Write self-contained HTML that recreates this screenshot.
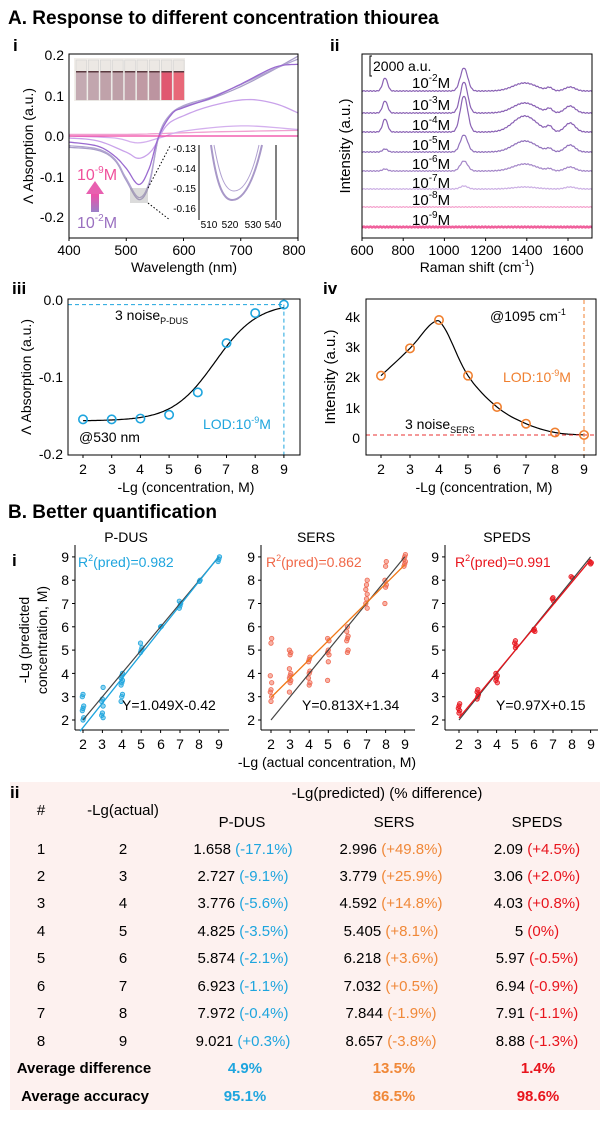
<!DOCTYPE html>
<html><head><meta charset="utf-8"><style>
body{margin:0;background:#fff}
svg{display:block;font-family:"Liberation Sans",Arial,sans-serif}
</style></head><body>
<svg id="s" width="600" height="1139" viewBox="0 0 600 1139" xmlns="http://www.w3.org/2000/svg">
<defs>
<linearGradient id="ag" x1="0" y1="1" x2="0" y2="0"><stop offset="0" stop-color="#9a80c8"/><stop offset="1" stop-color="#f050a8"/></linearGradient>
</defs>
<rect x="10" y="782" width="590" height="328" fill="#fdf1ef"/>
<text x="8" y="24" font-size="19" font-weight="bold">A. Response to different concentration thiourea</text>
<text x="8" y="518" font-size="19" font-weight="bold">B. Better quantification</text>
<text x="13" y="51" font-size="17" font-weight="bold">i</text>
<text x="330" y="51" font-size="17" font-weight="bold">ii</text>
<text x="12" y="294" font-size="17" font-weight="bold">iii</text>
<text x="323" y="294" font-size="17" font-weight="bold">iv</text>
<text x="12" y="566" font-size="17" font-weight="bold">i</text>
<text x="10" y="798" font-size="17" font-weight="bold">ii</text>
<g id="p1"></g>
<rect x="69" y="54" width="229" height="184" fill="none" stroke="#000" stroke-width="1"/>
<g font-size="14" text-anchor="end">
<text x="64" y="60">0.2</text><text x="64" y="101">0.1</text><text x="64" y="141">0.0</text><text x="64" y="182">-0.1</text><text x="64" y="222">-0.2</text></g>
<g font-size="14" text-anchor="middle">
<text x="69" y="255">400</text><text x="126" y="255">500</text><text x="184" y="255">600</text><text x="241" y="255">700</text><text x="294" y="255">800</text>
<text x="184" y="272" font-size="14">Wavelength (nm)</text></g>
<text transform="translate(33,146) rotate(-90)" font-size="14" text-anchor="middle">Λ Absorption (a.u.)</text>
<g id="photo"></g>
<text x="77" y="180" font-size="16" fill="#f0509c">10<tspan font-size="10" dy="-7">-9</tspan><tspan dy="7">M</tspan></text>
<text x="77" y="228" font-size="16" fill="#9a70c0">10<tspan font-size="10" dy="-7">-2</tspan><tspan dy="7">M</tspan></text>
<rect x="91" y="194" width="8" height="18" fill="url(#ag)"/>
<polygon points="86,194 104,194 95,181" fill="#e860b0"/>
<rect x="130" y="188" width="18" height="15" fill="#999" opacity="0.35"/>
<line x1="148" y1="188" x2="170" y2="146" stroke="#000" stroke-dasharray="1.5,2"/>
<line x1="148" y1="203" x2="170" y2="220" stroke="#000" stroke-dasharray="1.5,2"/>
<line x1="199" y1="145" x2="199" y2="220" stroke="#000"/><line x1="276" y1="145" x2="276" y2="220" stroke="#000"/>
<g font-size="10" text-anchor="end"><text x="196" y="152">-0.13</text><text x="196" y="172">-0.14</text><text x="196" y="192">-0.15</text><text x="196" y="212">-0.16</text></g>
<g font-size="10" text-anchor="middle"><text x="209" y="228">510</text><text x="230" y="228">520</text><text x="253" y="228">530</text><text x="273" y="228">540</text></g>
<path d="M211,145 C216,180 222,200 232,200 C244,200 254,180 262,145" fill="none" stroke="#a898c8" stroke-width="2"/>
<path d="M214,145 C219,172 224,191 234,191 C245,191 253,172 259,145" fill="none" stroke="#b0a0d0" stroke-width="1"/>
<g id="p2"></g>
<rect x="362" y="54" width="230" height="184" fill="none" stroke="#000"/>
<path d="M372,56 h-2 v20 h2" fill="none" stroke="#000"/>
<text x="373" y="71" font-size="14">2000 a.u.</text>
<g font-size="15">
<text x="412" y="88">10<tspan font-size="10" dy="-7">-2</tspan><tspan dy="7">M</tspan></text>
<text x="412" y="110">10<tspan font-size="10" dy="-7">-3</tspan><tspan dy="7">M</tspan></text>
<text x="412" y="130">10<tspan font-size="10" dy="-7">-4</tspan><tspan dy="7">M</tspan></text>
<text x="412" y="150">10<tspan font-size="10" dy="-7">-5</tspan><tspan dy="7">M</tspan></text>
<text x="412" y="169">10<tspan font-size="10" dy="-7">-6</tspan><tspan dy="7">M</tspan></text>
<text x="412" y="188">10<tspan font-size="10" dy="-7">-7</tspan><tspan dy="7">M</tspan></text>
<text x="412" y="205">10<tspan font-size="10" dy="-7">-8</tspan><tspan dy="7">M</tspan></text>
<text x="412" y="225">10<tspan font-size="10" dy="-7">-9</tspan><tspan dy="7">M</tspan></text></g>
<g font-size="14" text-anchor="middle">
<text x="362" y="255">600</text><text x="403" y="255">800</text><text x="444" y="255">1000</text><text x="486" y="255">1200</text><text x="527" y="255">1400</text><text x="568" y="255">1600</text>
<text x="477" y="272">Raman shift (cm<tspan font-size="9" dy="-6">-1</tspan><tspan dy="6">)</tspan></text></g>
<text transform="translate(350,146) rotate(-90)" font-size="15" text-anchor="middle">Intensity (a.u.)</text>
<g id="p3"></g>
<rect x="68" y="299" width="232" height="156" fill="none" stroke="#000"/>
<g font-size="14" text-anchor="end"><text x="63" y="305">0.0</text><text x="63" y="382">-0.1</text><text x="63" y="459">-0.2</text></g>
<g font-size="14" text-anchor="middle"><text x="83" y="474">2</text><text x="112" y="474">3</text><text x="140" y="474">4</text><text x="169" y="474">5</text><text x="198" y="474">6</text><text x="226" y="474">7</text><text x="255" y="474">8</text><text x="284" y="474">9</text>
<text x="186" y="492">-Lg (concentration, M)</text></g>
<text transform="translate(31,377) rotate(-90)" font-size="14" text-anchor="middle">Λ Absorption (a.u.)</text>
<text x="115" y="320" font-size="14">3 noise<tspan font-size="9" dy="4">P-DUS</tspan></text>
<text x="203" y="429" font-size="14" fill="#1ea5de">LOD:10<tspan font-size="9" dy="-6">-9</tspan><tspan dy="6">M</tspan></text>
<text x="79" y="442" font-size="14">@530 nm</text>
<g id="p4"></g>
<rect x="366" y="299" width="230" height="156" fill="none" stroke="#000"/>
<g font-size="14" text-anchor="end"><text x="360" y="322">4k</text><text x="360" y="352">3k</text><text x="360" y="382">2k</text><text x="360" y="413">1k</text><text x="360" y="443">0</text></g>
<g font-size="14" text-anchor="middle"><text x="381" y="474">2</text><text x="410" y="474">3</text><text x="439" y="474">4</text><text x="468" y="474">5</text><text x="497" y="474">6</text><text x="526" y="474">7</text><text x="555" y="474">8</text><text x="584" y="474">9</text>
<text x="484" y="492">-Lg (concentration, M)</text></g>
<text transform="translate(335,377) rotate(-90)" font-size="15" text-anchor="middle">Intensity (a.u.)</text>
<text x="490" y="321" font-size="14">@1095 cm<tspan font-size="9" dy="-6">-1</tspan></text>
<text x="503" y="382" font-size="14" fill="#f08030">LOD:10<tspan font-size="9" dy="-6">-9</tspan><tspan dy="6">M</tspan></text>
<text x="405" y="429" font-size="14">3 noise<tspan font-size="9" dy="4">SERS</tspan></text>
<g id="pb"></g>
<g font-size="14" text-anchor="middle"><text x="126" y="542">P-DUS</text><text x="316" y="542">SERS</text><text x="507" y="542">SPEDS</text>
<text x="327" y="767">-Lg (actual concentration, M)</text></g>
<text x="78" y="567" font-size="14" fill="#1ea5de">R<tspan font-size="9" dy="-6">2</tspan><tspan dy="6">(pred)=0.982</tspan></text>
<text x="266" y="567" font-size="14" fill="#f06848">R<tspan font-size="9" dy="-6">2</tspan><tspan dy="6">(pred)=0.862</tspan></text>
<text x="455" y="567" font-size="14" fill="#e8141c">R<tspan font-size="9" dy="-6">2</tspan><tspan dy="6">(pred)=0.991</tspan></text>
<text x="122" y="710" font-size="14">Y=1.049X-0.42</text>
<text x="302" y="710" font-size="14">Y=0.813X+1.34</text>
<text x="496" y="710" font-size="14">Y=0.97X+0.15</text>
<text transform="translate(29,640) rotate(-90)" font-size="14" text-anchor="middle">-Lg (predicted</text>
<text transform="translate(47,640) rotate(-90)" font-size="14" text-anchor="middle">concentration, M)</text>
<g font-size="15" text-anchor="middle">
<text x="387" y="798">-Lg(predicted) (% difference)</text>
<text x="41" y="815">#</text><text x="123" y="815">-Lg(actual)</text>
<text x="242" y="827">P-DUS</text><text x="394" y="827">SERS</text><text x="537" y="827">SPEDS</text>
</g>
<g font-size="15" text-anchor="middle">
<g transform="translate(0,854)"><text x="41">1</text><text x="123">2</text><text x="243">1.658 <tspan fill="#1ea5de">(-17.1%)</tspan></text><text x="391">2.996 <tspan fill="#f08838">(+49.8%)</tspan></text><text x="537">2.09 <tspan fill="#e8141c">(+4.5%)</tspan></text></g>
<g transform="translate(0,881)"><text x="41">2</text><text x="123">3</text><text x="243">2.727 <tspan fill="#1ea5de">(-9.1%)</tspan></text><text x="391">3.779 <tspan fill="#f08838">(+25.9%)</tspan></text><text x="537">3.06 <tspan fill="#e8141c">(+2.0%)</tspan></text></g>
<g transform="translate(0,908)"><text x="41">3</text><text x="123">4</text><text x="243">3.776 <tspan fill="#1ea5de">(-5.6%)</tspan></text><text x="391">4.592 <tspan fill="#f08838">(+14.8%)</tspan></text><text x="537">4.03 <tspan fill="#e8141c">(+0.8%)</tspan></text></g>
<g transform="translate(0,936)"><text x="41">4</text><text x="123">5</text><text x="243">4.825 <tspan fill="#1ea5de">(-3.5%)</tspan></text><text x="391">5.405 <tspan fill="#f08838">(+8.1%)</tspan></text><text x="537">5 <tspan fill="#e8141c">(0%)</tspan></text></g>
<g transform="translate(0,963)"><text x="41">5</text><text x="123">6</text><text x="243">5.874 <tspan fill="#1ea5de">(-2.1%)</tspan></text><text x="391">6.218 <tspan fill="#f08838">(+3.6%)</tspan></text><text x="537">5.97 <tspan fill="#e8141c">(-0.5%)</tspan></text></g>
<g transform="translate(0,991)"><text x="41">6</text><text x="123">7</text><text x="243">6.923 <tspan fill="#1ea5de">(-1.1%)</tspan></text><text x="391">7.032 <tspan fill="#f08838">(+0.5%)</tspan></text><text x="537">6.94 <tspan fill="#e8141c">(-0.9%)</tspan></text></g>
<g transform="translate(0,1018)"><text x="41">7</text><text x="123">8</text><text x="243">7.972 <tspan fill="#1ea5de">(-0.4%)</tspan></text><text x="391">7.844 <tspan fill="#f08838">(-1.9%)</tspan></text><text x="537">7.91 <tspan fill="#e8141c">(-1.1%)</tspan></text></g>
<g transform="translate(0,1046)"><text x="41">8</text><text x="123">9</text><text x="243">9.021 <tspan fill="#1ea5de">(+0.3%)</tspan></text><text x="391">8.657 <tspan fill="#f08838">(-3.8%)</tspan></text><text x="537">8.88 <tspan fill="#e8141c">(-1.3%)</tspan></text></g>
<g transform="translate(0,1073)" font-weight="bold"><text x="84">Average difference</text><text x="245" fill="#1ea5de">4.9%</text><text x="394" fill="#f08838">13.5%</text><text x="538" fill="#e8141c">1.4%</text></g>
<g transform="translate(0,1101)" font-weight="bold"><text x="85">Average accuracy</text><text x="245" fill="#1ea5de">95.1%</text><text x="394" fill="#f08838">86.5%</text><text x="538" fill="#e8141c">98.6%</text></g>
</g>
</svg>
<script>
var NS="http://www.w3.org/2000/svg";
function el(p,t,a){var e=document.createElementNS(NS,t);for(var k in a)e.setAttribute(k,a[k]);document.getElementById(p).appendChild(e);return e;}
function cr(pts,n){var o=[];for(var i=0;i<pts.length-1;i++){var p0=pts[Math.max(0,i-1)],p1=pts[i],p2=pts[i+1],p3=pts[Math.min(pts.length-1,i+2)];for(var j=0;j<n;j++){var t=j/n,t2=t*t,t3=t2*t;var f=function(a,b,c,d){return 0.5*(2*b+(-a+c)*t+(2*a-5*b+4*c-d)*t2+(-a+3*b-3*c+d)*t3)};o.push([f(p0[0],p1[0],p2[0],p3[0]),f(p0[1],p1[1],p2[1],p3[1])]);}}o.push(pts[pts.length-1]);return o;}
function pl(p,pts,col,w){return el(p,"polyline",{points:pts.map(function(q){return q[0].toFixed(1)+","+q[1].toFixed(1)}).join(" "),fill:"none",stroke:col,"stroke-width":w||1});}
function X1(n){return 69+(n-400)*0.5725}function Y1(v){return 136-v*405}
var cur=[
["#f0a0d0",[[400,.004],[500,.004],[560,.006],[650,.01],[800,.014]]],
["#d4b0ee",[[400,0],[480,-.005],[520,-.017],[560,-.004],[600,.012],[700,.025],[800,.016]]],
["#c9a2ea",[[400,-.005],[450,-.012],[500,-.04],[522,-.055],[545,-.035],[570,.025],[600,.05],[650,.075],[710,.09],[760,.08],[800,.057]]],
["#a89cc8",[[400,-.028],[450,-.035],[480,-.06],[500,-.11],[522,-.157],[540,-.12],[557,0],[575,.05],[600,.072],[650,.093],[700,.122],[750,.158],[800,.197]]],
["#b0a4d0",[[400,-.024],[450,-.032],[480,-.057],[500,-.105],[522,-.152],[540,-.115],[557,0],[575,.05],[600,.075],[650,.097],[700,.127],[750,.16],[800,.19]]],
["#9a6ad0",[[400,-.015],[450,-.025],[480,-.05],[500,-.08],[522,-.12],[540,-.08],[557,0],[580,.055],[600,.07],[650,.095],[700,.128],[760,.17],[800,.177]]],
["#f040a0",[[400,0],[800,0]]]];
cur.forEach(function(c){pl("p1",cr(c[1].map(function(q){return[X1(q[0]),Y1(q[1])]}),8),c[0],1.3);});
el("photo","rect",{x:74,y:58,width:111,height:43,fill:"#f2eeea"});
var vc=["#c4aab2","#c2a6ae","#c0a2aa","#bea0a8","#c09ea8","#c09aa4","#bc94a0","#e05870","#e86878"];
for(var i=0;i<9;i++){var x=76+i*12.2;el("photo","rect",{x:x,y:60,width:10.5,height:40,fill:"#ece8e4",stroke:"#ccc","stroke-width":0.5});el("photo","rect",{x:x,y:72,width:10.5,height:28,fill:vc[i]});el("photo","rect",{x:x,y:71,width:10.5,height:1.5,fill:"#5a3a40"});}
function X2(w){return 362+(w-600)*0.206}
var pk=[[712,12],[1095,18],[1390,40],[1510,14],[1610,25]];
var sp=[[91,[13,23,8,3,4],"#8a62b4"],[113,[12,31,10,4,7],"#8a62b4"],[132,[13,36,16,5,9],"#8a62b4"],[152,[3,17,11,3,7],"#9272bc"],[171,[2,10,7,2,4],"#a486c8"],[189,[0,3,2,0,2],"#ccb0e4"],[207,[0,0,0,0,0],"#f4a0cc"],[227,[0,0,0,0,0],"#f0609c"]];
sp.forEach(function(s,k){var pts=[];for(var w=600;w<=1716;w+=3){var y=s[0];pk.forEach(function(p,i){y-=s[1][i]*Math.exp(-Math.pow((w-p[0])/p[1],2)/2*(i==2?0.5:1))});y+=(Math.sin(w*1.7)*0.4);pts.push([X2(w),y]);}pl("p2",pts,s[2],k==7?2.5:1.2);});
function X3(v){return 83+(v-2)*28.7}function Y3(a){return 300-a*770}
var d3=[[2,-.155],[3,-.155],[4,-.154],[5,-.149],[6,-.12],[7,-.056],[8,-.017],[9,-.006]];
var sm=[];for(var v=2;v<=9.001;v+=0.05){var a=-0.157+0.153/(1+Math.exp(-(v-6.6)*1.35));sm.push([X3(v),Y3(a)]);}
pl("p3",sm,"#000",1.2);
el("p3","line",{x1:68,y1:Y3(-.006),x2:X3(9),y2:Y3(-.006),stroke:"#1ea5de","stroke-dasharray":"4,3"});
el("p3","line",{x1:X3(9),y1:Y3(-.006),x2:X3(9),y2:455,stroke:"#1ea5de","stroke-dasharray":"4,3"});
d3.forEach(function(d){el("p3","circle",{cx:X3(d[0]),cy:Y3(d[1]),r:4.2,fill:"none",stroke:"#1ea5de","stroke-width":1.6})});
function X4(v){return 381+(v-2)*29}function Y4(k){return 438-k*30.4}
var d4=[[2,2.05],[3,2.95],[4,3.88],[5,2.05],[6,1.02],[7,.47],[8,.18],[9,.1]];
var sp4=[[2,2.05],[3,2.95],[3.8,3.8],[4.2,3.6],[5,2.05],[6,1.02],[7,.47],[8,.18],[9,.1]];
pl("p4",cr(sp4.map(function(d){return[X4(d[0]),Y4(d[1])]}),10),"#000",1.2);
el("p4","line",{x1:366,y1:Y4(.1),x2:596,y2:Y4(.1),stroke:"#e83030","stroke-dasharray":"4,3"});
el("p4","line",{x1:X4(9),y1:300,x2:X4(9),y2:455,stroke:"#f08030","stroke-dasharray":"4,3"});
d4.forEach(function(d){el("p4","circle",{cx:X4(d[0]),cy:Y4(d[1]),r:4.2,fill:"none",stroke:"#f08030","stroke-width":1.6})});
function ticksX(p,xs,y){xs.forEach(function(x){el(p,"line",{x1:x,y1:y,x2:x,y2:y+3,stroke:"#000"})})}
ticksX("p3",[2,3,4,5,6,7,8,9].map(X3),455);ticksX("p4",[2,3,4,5,6,7,8,9].map(X4),455);
ticksX("p1",[400,500,600,700,800].map(X1),238);ticksX("p2",[600,800,1000,1200,1400,1600].map(X2),238);
var panels=[
{x0:83,s:19.4,left:75,right:229,col:"#1ea5de",m:1.049,b:-0.42,fx:[1.85,9],
pts:{2:[2.0,2.1,2.4,2.5,2.6,3.0,3.1],3:[2.1,2.2,2.3,2.6,2.8,2.9,3.4],4:[2.8,3.0,3.1,3.5,3.6,3.7,3.8,3.9,4.0],5:[4.9,5.0,5.1,5.3],6:[6.0,6.02],7:[6.8,6.9,7.0,7.1],8:[7.95,8.0],9:[8.8,8.9,9.0]}},
{x0:271,s:19.1,left:261,right:415,col:"#f06850",lc:"#f07818",m:0.813,b:1.34,fx:[2,9],
pts:{2:[2.8,3.0,3.2,3.3,3.6,3.9,5.3,5.5],3:[3.2,3.6,3.7,3.8,3.9,4.0,4.2,4.8,4.9,5.0],4:[3.5,3.6,3.8,4.0,4.1,4.5,4.6,4.7],5:[3.7,4.5,4.8,4.9,5.0,5.4,5.5],6:[4.9,5.0,5.4,5.5,5.6,5.8,6.0],7:[6.8,7.0,7.2,7.4,7.6,7.8,8.0],8:[7.0,7.7,7.8,8.0,8.6,8.8],9:[8.6,8.7,8.8,8.9,9.0,9.1]}},
{x0:459,s:18.8,left:445,right:598,col:"#e8141c",m:0.97,b:0.15,fx:[2,9],
pts:{2:[2.3,2.4,2.5,2.6,2.7],3:[2.9,3.0,3.1,3.2,3.3],4:[3.6,3.7,3.8,3.9,4.0],5:[5.1,5.2,5.3,5.4],6:[5.8,5.85,5.9],7:[7.1,7.2,7.25],8:[8.1,8.15],9:[8.7,8.75,8.8]}}];
function YB(v){return 720-(v-2)*23.3}
panels.forEach(function(P){
 var X=function(v){return P.x0+(v-2)*P.s};
 el("pb","line",{x1:P.left,y1:545,x2:P.left,y2:730,stroke:"#000"});
 el("pb","line",{x1:P.left,y1:730,x2:P.right,y2:730,stroke:"#000"});
 for(var v=2;v<=9;v++){el("pb","line",{x1:P.left,y1:YB(v),x2:P.left-3,y2:YB(v),stroke:"#000"});el("pb","line",{x1:X(v),y1:730,x2:X(v),y2:733,stroke:"#000"});}
 var j=0;
 for(var k in P.pts){P.pts[k].forEach(function(y){j++;el("pb","circle",{cx:X(+k)+((j%3)-1)*0.7,cy:YB(y),r:2.2,fill:P.col,"fill-opacity":0.5,stroke:P.col,"stroke-width":0.8})});}
 el("pb","line",{x1:X(2),y1:YB(2),x2:X(9),y2:YB(9),stroke:"#444","stroke-width":1.2});
 el("pb","line",{x1:X(P.fx[0]),y1:YB(P.m*P.fx[0]+P.b),x2:X(P.fx[1]),y2:YB(P.m*P.fx[1]+P.b),stroke:P.lc||P.col,"stroke-width":1.3});
});
</script>
<svg width="0" height="0" style="position:absolute"></svg>
<div style="position:absolute;left:0;top:0;width:600px;height:1139px;pointer-events:none">
<svg width="600" height="1139" style="position:absolute;left:0;top:0;font-family:'Liberation Sans',Arial,sans-serif">
<g font-size="14" text-anchor="end">
<text x="69" y="725">2</text><text x="69" y="702">3</text><text x="69" y="679">4</text><text x="69" y="655">5</text><text x="69" y="632">6</text><text x="69" y="609">7</text><text x="69" y="585">8</text><text x="69" y="562">9</text>
<text x="255" y="725">2</text><text x="255" y="702">3</text><text x="255" y="679">4</text><text x="255" y="655">5</text><text x="255" y="632">6</text><text x="255" y="609">7</text><text x="255" y="585">8</text><text x="255" y="562">9</text>
<text x="439" y="725">2</text><text x="439" y="702">3</text><text x="439" y="679">4</text><text x="439" y="655">5</text><text x="439" y="632">6</text><text x="439" y="609">7</text><text x="439" y="585">8</text><text x="439" y="562">9</text>
</g>
<g font-size="14" text-anchor="middle">
<text x="83" y="749">2</text><text x="102" y="749">3</text><text x="122" y="749">4</text><text x="141" y="749">5</text><text x="161" y="749">6</text><text x="180" y="749">7</text><text x="199" y="749">8</text><text x="219" y="749">9</text>
<text x="271" y="749">2</text><text x="290" y="749">3</text><text x="309" y="749">4</text><text x="328" y="749">5</text><text x="347" y="749">6</text><text x="367" y="749">7</text><text x="386" y="749">8</text><text x="405" y="749">9</text>
<text x="459" y="749">2</text><text x="478" y="749">3</text><text x="497" y="749">4</text><text x="515" y="749">5</text><text x="534" y="749">6</text><text x="553" y="749">7</text><text x="572" y="749">8</text><text x="591" y="749">9</text>
</g>
</svg></div>
</body></html>
